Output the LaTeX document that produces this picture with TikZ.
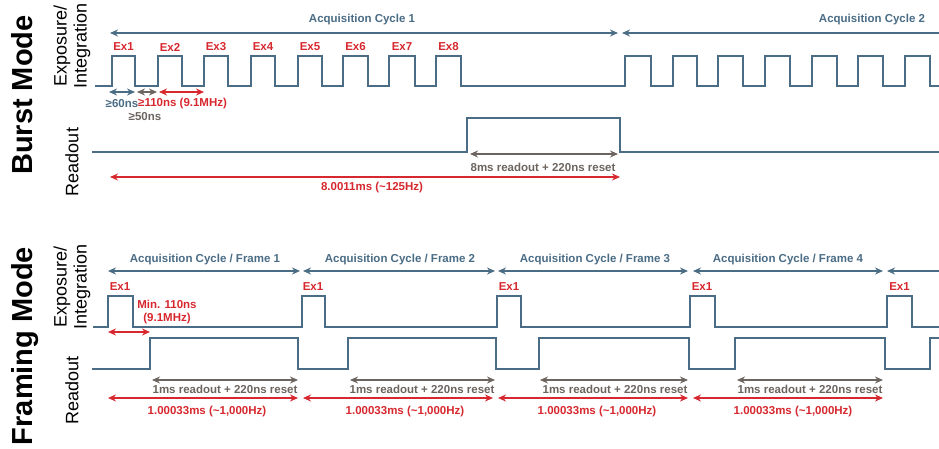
\documentclass[tikz,border=0pt]{standalone}
\usepackage{fontspec}
\setmainfont{Liberation Sans}
\usetikzlibrary{arrows.meta}
\definecolor{steel}{RGB}{74,108,133}
\definecolor{ered}{RGB}{214,40,46}
\definecolor{dgray}{RGB}{108,100,94}
\tikzset{
  wave/.style={steel, line width=2.8pt, line join=miter},
  dim/.style={line width=2pt, {Stealth[length=8pt,width=7pt]}-{Stealth[length=8pt,width=7pt]}},
  ldim/.style={line width=2pt, {Stealth[length=8pt,width=7pt]}-},
  lbl/.style={font=\fontsize{11.5}{13}\selectfont\bfseries, inner sep=0pt},
  axislbl/.style={font=\fontsize{18}{20}\selectfont, rotate=90, align=center, inner sep=0pt},
  modelbl/.style={font=\fontsize{29}{30}\selectfont\bfseries, rotate=90, inner sep=0pt, anchor=base},
}
\begin{document}
\begin{tikzpicture}[x=1pt, y=-1pt]
\useasboundingbox (0,0) rectangle (939,448);
% side labels
\node[modelbl] (burst) at (32,95) {Burst Mode};
\node[modelbl] (framing) at (32,346) {Framing Mode};
\node[axislbl] (bexp) at (72,46) {Exposure/\\Integration};
\node[axislbl] (bread) at (72,162) {Readout};
\node[axislbl] (fexp) at (72,287) {Exposure/\\Integration};
\node[axislbl] (fread) at (72,390) {Readout};

% ---- burst mode ----
\draw[dim, steel] (110,33) -- (618,33);
\draw[ldim, steel] (622,33) -- (939,33);
\node[lbl, steel] (cyc1) at (362,20) {Acquisition Cycle 1};
\node[lbl, steel] (cyc2) at (872,20) {Acquisition Cycle 2};
\foreach \c [count=\i] in {123.5,170,216,263,310,355.5,402,448.5}
  \node[lbl, ered] (ex\i) at (\c,47) {Ex\i};
\draw[wave] (95,86) foreach \r/\f in {112/135,158/182,204/228,251/275,298/322,343/368,389/415,436/461,625/651,673/697,718/743,765/790,812/837,858/883,905/930}
  { -- (\r,86) -- (\r,56) -- (\f,56) -- (\f,86) } -- (939,86);
\draw[dim, steel] (109,92) -- (135,92);
\draw[dim, dgray] (137,92) -- (157,92);
\draw[dim, ered] (159,92) -- (204,92);
\node[lbl, steel] (t60) at (122,104) {≥60ns};
\node[lbl, ered, anchor=west] (t110) at (138,104) {≥110ns (9.1MHz)};
\node[lbl, dgray] (t50) at (145,117) {≥50ns};
\draw[wave] (92,152) -- (467,152) -- (467,118) -- (620,118) -- (620,152) -- (939,152);
\draw[dim, dgray] (470,154) -- (618,154);
\node[lbl, dgray] (bro) at (543,167) {8ms readout + 220ns reset};
\draw[dim, ered] (110,177) -- (620,177);
\node[lbl, ered] (bper) at (372,188) {8.0011ms (\textasciitilde125Hz)};

% ---- framing mode ----
\foreach \a/\b/\c [count=\i] in {108/300/205,303/495/400,498/688/595,693/883/788}{
  \draw[dim, steel] (\a,271) -- (\b,271);
  \node[lbl, steel] (frm\i) at (\c,260) {Acquisition Cycle / Frame \i};
}
\draw[ldim, steel] (887,271) -- (939,271);
\foreach \c [count=\i] in {120,313,509,702,899.5}
  \node[lbl, ered] (fex\i) at (\c,287) {Ex1};
\draw[wave] (93,327) foreach \r/\f in {108/133,302/325,497/521,690/715,887/912}
  { -- (\r,327) -- (\r,296) -- (\f,296) -- (\f,327) } -- (939,327);
\node[lbl, ered, align=center] (tmin) at (167,312) {Min. 110ns\\(9.1MHz)};
\draw[dim, ered] (108,332) -- (150,332);
\draw[wave] (92,369) -- (150,369) -- (150,338) foreach \f/\r in {298/348,496/539,689/735,885/930}
  { -- (\f,338) -- (\f,369) -- (\r,369) -- (\r,338) } -- (939,338);
\foreach \a/\b/\c [count=\i] in {152/298/225,350/495/422,540/688/615,737/883/810}{
  \draw[dim, dgray] (\a,380) -- (\b,380);
  \node[lbl, dgray] (fro\i) at (\c,389) {1ms readout + 220ns reset};
}
\foreach \a/\b/\c [count=\i] in {108/298/207,303/493/405,498/688/597,693/883/793}{
  \draw[dim, ered] (\a,398) -- (\b,398);
  \node[lbl, ered] (fper\i) at (\c,412) {1.00033ms (\textasciitilde1,000Hz)};
}
\end{tikzpicture}
\end{document}
